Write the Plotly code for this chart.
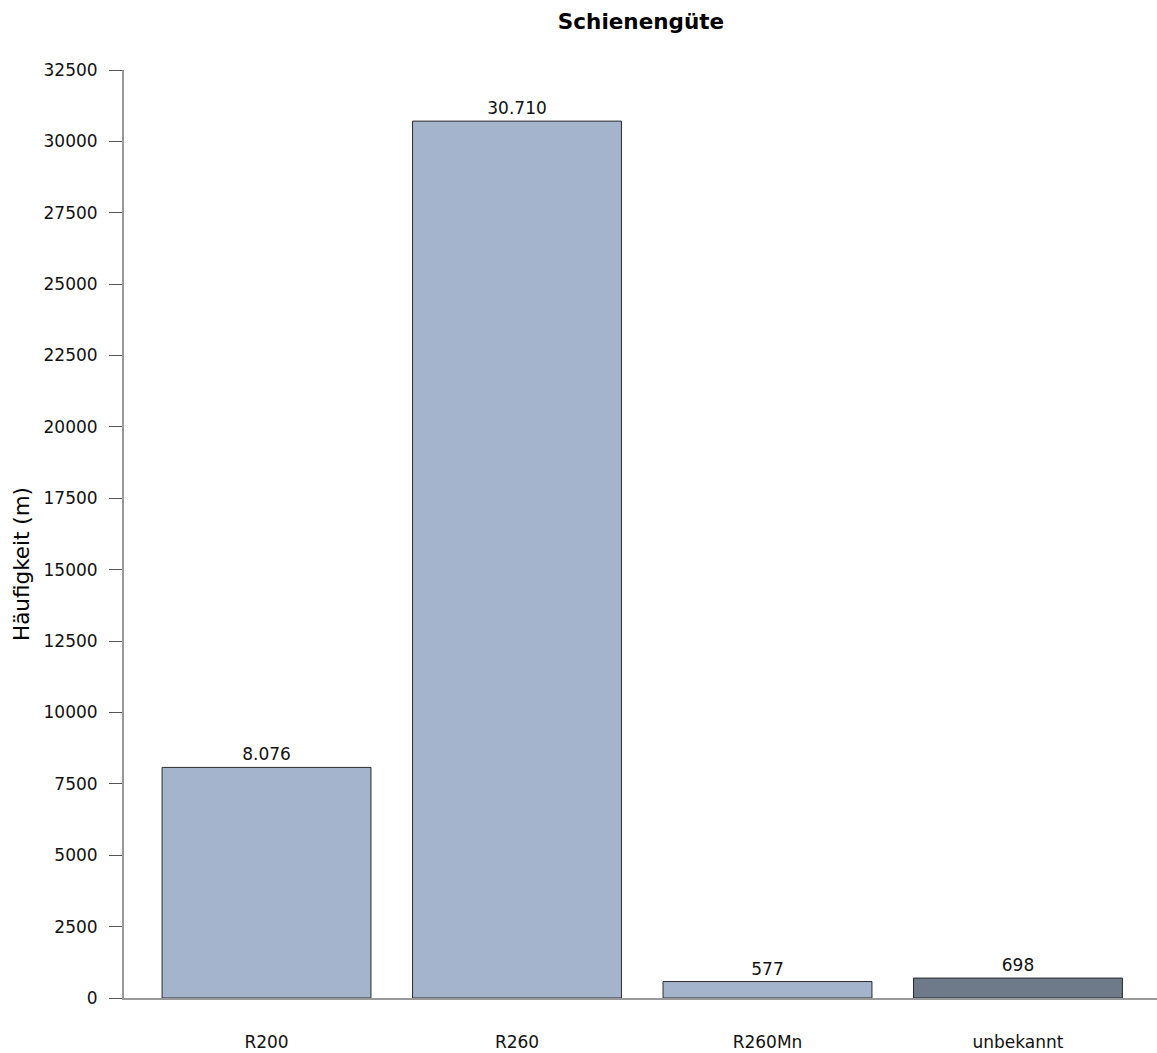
import plotly.graph_objects as go

# Schienengüte: Häufigkeit je Güteklasse in Metern
categories = ["R200", "R260", "R260Mn", "unbekannt"]
lengths_m = [8076, 30710, 577, 698]
bar_colors = ["#A3B4CC", "#A3B4CC", "#A3B4CC", "#6E7A8A"]
y_ticks = list(range(0, 32501, 2500))

FONT = "DejaVu Sans, Verdana, sans-serif"

fig = go.Figure(
    go.Bar(
        x=categories,
        y=lengths_m,
        marker=dict(color=bar_colors, line=dict(color="#2b2b2b", width=1)),
        texttemplate="%{y:,.0f}",
        textposition="outside",
        textfont=dict(family=FONT, size=17, color="#111111"),
        cliponaxis=False,
        width=0.834,
    )
)

fig.update_layout(
    width=1157,
    height=1053,
    separators=",.",
    paper_bgcolor="white",
    plot_bgcolor="white",
    margin=dict(l=124, r=0, t=70, b=55),
    showlegend=False,
    font=dict(family=FONT, size=17, color="#111111"),
    title=dict(
        text="<b>Schienengüte</b>",
        x=0.554,
        xanchor="center",
        y=0.98,
        yanchor="middle",
        font=dict(family=FONT, size=21.5, color="#000000"),
    ),
)

fig.update_xaxes(
    range=[-0.569, 3.555],
    showgrid=False,
    zeroline=False,
    showline=True,
    linecolor="#999999",
    linewidth=2,
    ticks="",
    ticklabelstandoff=28,
    tickfont=dict(family=FONT, size=17, color="#111111"),
)

fig.update_yaxes(
    range=[0, 32500],
    tickvals=y_ticks,
    tickformat="d",
    showgrid=False,
    zeroline=False,
    showline=True,
    linecolor="#999999",
    linewidth=2,
    ticks="outside",
    ticklen=13,
    tickcolor="#555555",
    ticklabelstandoff=8,
    tickfont=dict(family=FONT, size=17, color="#111111"),
)

# y-axis title placed as a rotated annotation
fig.add_annotation(
    text="Häufigkeit (m)",
    xref="paper", yref="paper",
    x=-0.0987, y=0.4677,
    xanchor="center", yanchor="middle",
    textangle=-90,
    showarrow=False,
    font=dict(family=FONT, size=21.5, color="#000000"),
)

fig.write_html("out.html")
